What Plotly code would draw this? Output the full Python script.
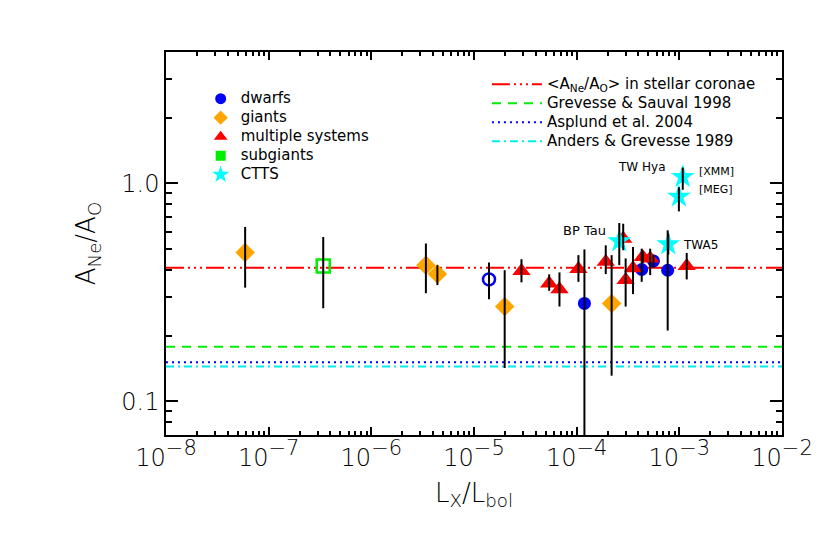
import numpy as np
import plotly.graph_objects as go

# --- data (x = Lx/Lbol, y = A_Ne/A_O, hi/lo = error bar ends) ---
dwarfs_x = [1.19e-4, 4.3e-4, 5.6e-4, 7.7e-4]
dwarfs_y = [0.281, 0.402, 0.440, 0.399]
dwarfs_hi = [0.497, 0.501, 0.47, 0.608]
dwarfs_lo = [0.05, 0.353, 0.41, 0.211]

dwarf_open_x = [1.4e-5]
dwarf_open_y = [0.362]
dwarf_open_hi = [0.433]
dwarf_open_lo = [0.294]

giants_x = [5.9e-8, 3.4e-6, 4.4e-6, 1.99e-5, 2.19e-4]
giants_y = [0.481, 0.421, 0.383, 0.272, 0.281]
giants_hi = [0.630, 0.529, 0.421, 0.399, 0.468]
giants_lo = [0.332, 0.313, 0.341, 0.142, 0.131]

multi_x = [2.9e-5, 5.4e-5, 6.8e-5, 1.04e-4, 1.92e-4, 2.84e-4, 3.0e-4, 3.54e-4, 4.4e-4, 5.2e-4, 1.18e-3]
multi_y = [0.396, 0.347, 0.326, 0.404, 0.436, 0.557, 0.360, 0.407, 0.459, 0.452, 0.417]
multi_hi = [0.448, 0.382, 0.390, 0.468, 0.519, 0.652, 0.452, 0.510, 0.49, 0.501, 0.479]
multi_lo = [0.351, 0.321, 0.272, 0.353, 0.383, 0.493, 0.272, 0.310, 0.43, 0.379, 0.362]

subg_x = [3.4e-7]
subg_y = [0.417]
subg_hi = [0.567]
subg_lo = [0.267]

ctts_x = [2.6e-4, 7.8e-4, 9.9e-4, 1.08e-3]
ctts_y = [0.542, 0.525, 0.869, 1.07]
ctts_hi = [0.657, 0.587, 0.959, 1.18]
ctts_lo = [0.421, 0.47, 0.743, 0.933]

# solar / coronal reference ratios
ref_names = ["&lt;A<sub>Ne</sub>/A<sub>O</sub>&gt; in stellar coronae", "Grevesse &amp; Sauval 1998",
             "Asplund et al. 2004", "Anders &amp; Grevesse 1989"]
ref_values = [0.41, 0.178, 0.151, 0.1445]
ref_colors = ["#ff0000", "#00ee00", "#0000ff", "#00eeee"]
ref_dashes = ["18px,4px,2px,4px,2px,4px,2px,4px", "9px,7px", "2px,4px", "8px,4px,2px,4px"]

# star labels (log10 positions)
label_text = ["TW Hya", "[XMM]", "[MEG]", "BP Tau", "TWA5"]
label_x = [-3.367, -2.83, -2.83, -3.922, -2.984]
label_y = [0.076, 0.055, -0.030, -0.219, -0.284]
label_anchor = ["center", "left", "left", "center", "left"]
label_size = [12, 11, 11, 13, 12]

x_range = [1e-8, 1e-2]
FONT = "DejaVu Sans"


def errs(y, hi, lo):
    y = np.array(y)
    return dict(type="data", symmetric=False, array=list(np.array(hi) - y),
                arrayminus=list(y - np.array(lo)), color="black", thickness=2, width=0)


def big(txt):
    return '<span style="font-size:15px">' + txt + "</span>"


def font(size, weight=400):
    return dict(size=size, family=FONT, color="black", weight=weight)


fig = go.Figure()

# horizontal reference lines
for name, val, col, dash in zip(ref_names, ref_values, ref_colors, ref_dashes):
    fig.add_trace(go.Scatter(x=x_range, y=[val, val], mode="lines", name=big(name),
                             line=dict(color=col, width=2, dash=dash), legend="legend2"))

# data points: markers, then error bars drawn on top
groups = [
    (dwarfs_x, dwarfs_y, dwarfs_hi, dwarfs_lo, dict(symbol="circle", size=13, color="#0000ff")),
    (dwarf_open_x, dwarf_open_y, dwarf_open_hi, dwarf_open_lo,
     dict(symbol="circle-open", size=12, color="#0000ff", line=dict(width=2.5))),
    (giants_x, giants_y, giants_hi, giants_lo, dict(symbol="diamond", size=15, color="#ffa500")),
    (multi_x, multi_y, multi_hi, multi_lo, dict(symbol="triangle-up", size=16, color="#ff0000")),
    (subg_x, subg_y, subg_hi, subg_lo,
     dict(symbol="square-open", size=13, color="#00ee00", line=dict(width=2.5))),
    (ctts_x, ctts_y, ctts_hi, ctts_lo, dict(symbol="star", size=18, color="#00ffff")),
]
for gx, gy, ghi, glo, mk in groups:
    fig.add_trace(go.Scatter(x=gx, y=gy, mode="markers", marker=mk, showlegend=False))
for gx, gy, ghi, glo, mk in groups:
    fig.add_trace(go.Scatter(x=gx, y=gy, mode="markers", marker=dict(size=1, opacity=0),
                             error_y=errs(gy, ghi, glo), showlegend=False))

# legend entries for the symbol key
legend_items = [
    ("dwarfs", dict(symbol="circle", size=11, color="#0000ff")),
    ("giants", dict(symbol="diamond", size=11, color="#ffa500")),
    ("multiple systems", dict(symbol="triangle-up", size=12, color="#ff0000")),
    ("subgiants", dict(symbol="square", size=10, color="#00ee00")),
    ("CTTS", dict(symbol="star", size=13, color="#00ffff")),
]
for name, mk in legend_items:
    fig.add_trace(go.Scatter(x=[None], y=[None], mode="markers", marker=mk,
                             name=big(name), legend="legend"))

for t, lx, ly, anc, sz in zip(label_text, label_x, label_y, label_anchor, label_size):
    fig.add_annotation(x=lx, y=ly, xref="x", yref="y", text=t, showarrow=False,
                       xanchor=anc, yanchor="middle", font=font(sz))

x_major = [10.0 ** p for p in range(-8, -1)]
x_text = ['10<sup><span style="font-size:21px">\u2212%d</span></sup>' % -p for p in range(-8, -1)]
x_minor = [k * 10.0 ** p for p in range(-8, -2) for k in range(2, 10)]
y_minor = [0.08, 0.09] + [k / 10 for k in range(2, 10)] + [2, 3, 4]

fig.update_xaxes(type="log", range=[-8, -2], showline=True, linecolor="black", linewidth=1.5,
                 mirror="ticks", ticks="inside", ticklen=8, tickwidth=1.5, tickcolor="black",
                 tickmode="array", tickvals=x_major, ticktext=x_text,
                 tickfont=font(24, 200), showgrid=False, zeroline=False,
                 minor=dict(tickmode="array", tickvals=x_minor, ticks="inside", ticklen=4,
                            tickwidth=1.5, tickcolor="black", showgrid=False),
                 title=dict(text="L<sub>X</sub>/L<sub>bol</sub>", font=font(26, 200), standoff=13))
fig.update_yaxes(type="log", range=[np.log10(0.07), np.log10(4)], showline=True, linecolor="black",
                 linewidth=1.5, mirror="ticks", ticks="inside", ticklen=12, tickwidth=1.5, tickcolor="black",
                 tickmode="array", tickvals=[0.1, 1.0], ticktext=["0.1", "1.0"],
                 tickfont=font(24, 200), showgrid=False, zeroline=False,
                 minor=dict(tickmode="array", tickvals=y_minor, ticks="inside", ticklen=6,
                            tickwidth=1.5, tickcolor="black", showgrid=False),
                 title=dict(text="A<sub>Ne</sub>/A<sub>O</sub>", font=font(26, 200), standoff=18))

# page has an 8px body margin, so margins are trimmed by 8px on top/left
fig.update_layout(
    width=830, height=540,
    margin=dict(l=158, r=56, t=44, b=113),
    paper_bgcolor="white", plot_bgcolor="white",
    font=font(12),
    legend=dict(x=0.0563, y=0.916, xanchor="left", yanchor="top", bgcolor="rgba(0,0,0,0)",
                font=font(12)),
    legend2=dict(x=0.521, y=0.9535, xanchor="left", yanchor="top", bgcolor="rgba(0,0,0,0)",
                 itemwidth=50, font=font(12)),
)

fig.write_html("out.html")
